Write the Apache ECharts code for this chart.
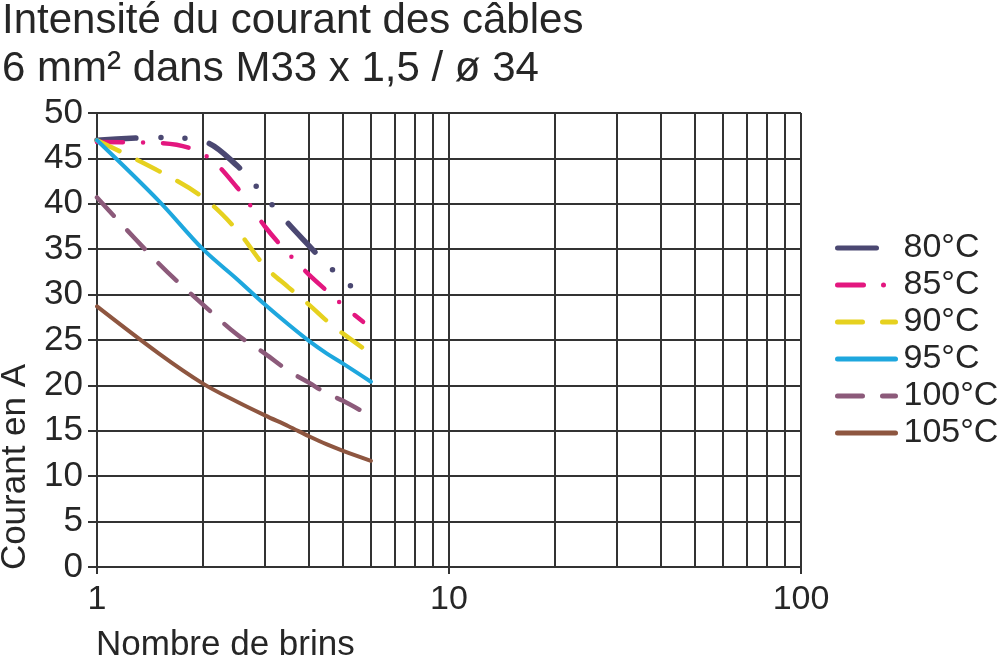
<!DOCTYPE html>
<html>
<head>
<meta charset="utf-8">
<script src="https://cdn.jsdelivr.net/npm/echarts@6/dist/echarts.min.js"></script>
<style>
html,body{margin:0;padding:0;background:#fff;}
#chart{width:1000px;height:664px;}
</style>
</head>
<body>
<div id="chart"></div>
<script>
// ---- data ----
var titleLines = ["Intensité du courant des câbles", "6 mm² dans M33 x 1,5 / ø 34"];
var xAxisTitle = "Nombre de brins";
var yAxisTitle = "Courant en A";
var seriesNames = ["80°C", "85°C", "90°C", "95°C", "100°C", "105°C"];

var brins   = [1, 1.5, 2, 2.5, 3, 3.5, 4, 4.5, 5, 6];
var brins80 = [1, 1.5, 2, 2.5, 3, 3.5, 4, 4.5, 5, 5.6];
var brins85 = [1, 1.5, 2, 2.5, 3, 3.5, 4, 4.5, 5, 5.7];

var c80  = [47, 47.3, 46.9, 44.2, 40.8, 37.8, 35.4, 33.3, 31.7, 30.0];
var c85  = [46.8, 46.7, 45.5, 41.8, 37.5, 34.5, 32.2, 30.4, 28.8, 27.0];
var c90  = [47, 43.6, 40.7, 37.1, 33.1, 30.8, 28.9, 27.1, 25.7, 23.5];
var c95  = [47, 40.3, 35.0, 31.7, 28.9, 26.7, 24.9, 23.5, 22.4, 20.4];
var c100 = [40.7, 33.4, 28.9, 25.6, 23.5, 21.6, 20.3, 19.1, 18.3, 16.6];
var c105 = [28.7, 23.5, 20.2, 18.2, 16.7, 15.5, 14.4, 13.5, 12.8, 11.7];

var xTickLabels = [1, 10, 100];
var minorGridX = [2, 3, 4, 5, 6, 7, 8, 9, 20, 30, 40, 50, 60, 70, 80, 90];

// ---- helpers ----
function pts(xs, ys) { return xs.map(function (x, i) { return [x, ys[i]]; }); }

var FONT = '"Liberation Sans", Arial, Helvetica, sans-serif';
var GRIDC = '#333333';
var TEXTC = '#262626';
var colors = ['#4b4872', '#e3177f', '#e6d11f', '#1ea7de', '#8c5a7a', '#8e5640'];
var dashes = [
  [39, 25, 0, 24, 0, 25],
  [26, 20, 0, 20],
  [25, 20],
  'solid',
  [25, 20],
  'solid'
];
var widths = [5.5, 4.5, 4.5, 4, 4.5, 4];
var xsList = [brins80, brins85, brins, brins, brins, brins];
var ysList = [c80, c85, c90, c95, c100, c105];

var series = seriesNames.map(function (name, i) {
  var s = {
    name: name,
    type: 'line',
    data: pts(xsList[i], ysList[i]),
    smooth: 0.35,
    showSymbol: false,
    symbol: 'none',
    z: 3,
    lineStyle: { color: colors[i], width: widths[i], type: dashes[i], cap: 'round' },
    itemStyle: { color: colors[i] }
  };
  if (i === 5) {
    s.markLine = {
      silent: true,
      symbol: ['none', 'none'],
      z: 1,
      animation: false,
      label: { show: false },
      lineStyle: { color: GRIDC, width: 2, type: 'solid' },
      emphasis: { disabled: true },
      data: minorGridX.map(function (v) { return { xAxis: v }; })
    };
  }
  return s;
});

var chart = echarts.init(document.getElementById('chart'));
chart.setOption({
  animation: false,
  backgroundColor: '#ffffff',
  title: {
    text: titleLines.join('\n'),
    left: 2,
    top: -3,
    padding: 0,
    textStyle: { fontFamily: FONT, fontSize: 42, fontWeight: 'normal', color: TEXTC, lineHeight: 48 }
  },
  legend: {
    orient: 'vertical',
    left: 835,
    top: 231,
    padding: 0,
    itemWidth: 58,
    itemHeight: 14,
    itemGap: 3,
    data: seriesNames,
    itemStyle: { opacity: 0 },
    lineStyle: { width: 5 },
    textStyle: { fontFamily: FONT, fontSize: 34, color: TEXTC, padding: [0, 0, 0, 3] }
  },
  grid: { left: 97, right: 199, top: 113, bottom: 97, containLabel: false },
  xAxis: {
    type: 'log',
    logBase: 10,
    min: 1,
    max: 100,
    axisLine: { show: true, lineStyle: { color: GRIDC, width: 2 } },
    axisTick: { show: true, length: 7, lineStyle: { color: GRIDC, width: 2 } },
    axisLabel: {
      margin: 16, fontFamily: FONT, fontSize: 34, color: TEXTC,
      formatter: function (v) { return xTickLabels.indexOf(v) >= 0 ? String(v) : ''; }
    },
    splitLine: { show: true, lineStyle: { color: GRIDC, width: 2 } }
  },
  yAxis: {
    type: 'value',
    min: 0,
    max: 50,
    interval: 5,
    axisLine: { show: true, lineStyle: { color: GRIDC, width: 2 } },
    axisTick: { show: true, length: 9, lineStyle: { color: GRIDC, width: 2 } },
    axisLabel: { margin: 14, fontFamily: FONT, fontSize: 35, color: TEXTC },
    splitLine: { show: true, lineStyle: { color: GRIDC, width: 2 } }
  },
  graphic: [
    {
      type: 'text', left: 96, top: 628,
      style: { text: xAxisTitle, fontFamily: FONT, fontSize: 35, fill: TEXTC }
    },
    {
      type: 'text', x: 15, y: 467, rotation: Math.PI / 2,
      style: { text: yAxisTitle, fontFamily: FONT, fontSize: 35, fill: TEXTC, align: 'center', verticalAlign: 'middle' }
    }
  ],
  series: series
});
</script>
</body>
</html>
